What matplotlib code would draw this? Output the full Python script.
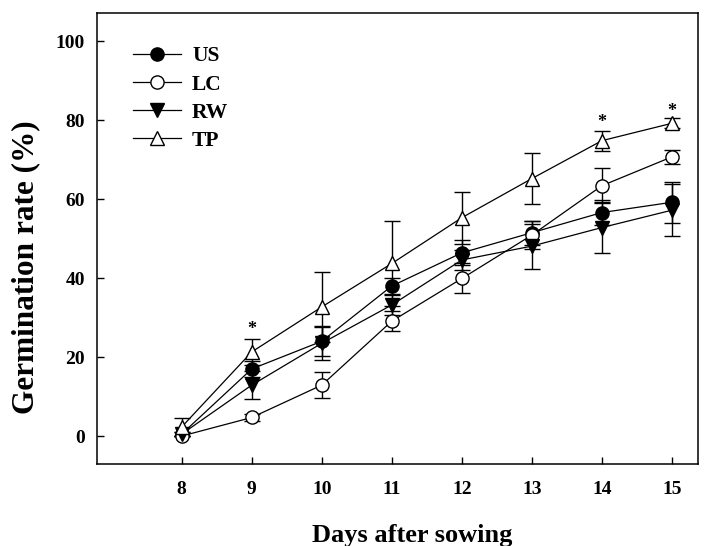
import numpy as np
import matplotlib.pyplot as plt
from matplotlib.lines import Line2D

plt.rcParams['font.family'] = ['Liberation Serif', 'DejaVu Serif']
plt.rcParams['font.weight'] = 'bold'

# days and germination rate (%) with standard errors
days = [8, 9, 10, 11, 12, 13, 14, 15]
us = [0.5, 17.0, 24.0, 38.0, 46.4, 51.5, 56.6, 59.2]
us_err = [0.5, 2.0, 3.7, 2.0, 3.2, 3.0, 3.1, 5.2]
lc = [0.0, 4.7, 12.9, 29.1, 39.9, 50.9, 63.4, 70.7]
lc_err = [0.0, 1.0, 3.2, 2.5, 3.8, 3.5, 4.4, 1.8]
rw = [0.5, 12.9, 23.5, 33.2, 44.6, 48.1, 52.8, 57.2]
rw_err = [0.5, 3.5, 4.3, 2.5, 2.5, 5.7, 6.4, 6.6]
tp = [2.3, 21.3, 32.7, 43.7, 55.3, 65.2, 74.8, 79.2]
tp_err = [2.2, 3.2, 8.9, 10.8, 6.6, 6.5, 2.5, 1.3]

# significance marks
star_days = [9, 14, 15]
star_y = [27.0, 79.3, 82.3]

fig = plt.figure(figsize=(7.18, 5.46), dpi=100)
ax = fig.add_axes([0.135, 0.150, 0.837, 0.826])

series = [
    ('US', us, us_err, 'o', 'black'),
    ('LC', lc, lc_err, 'o', 'white'),
    ('RW', rw, rw_err, 'v', 'black'),
    ('TP', tp, tp_err, '^', 'white'),
]
handles = []
for name, vals, err, mk, fc in series:
    ax.errorbar(days, vals, yerr=err, color='black', lw=0.9, marker=mk,
                markersize=9.5, markerfacecolor=fc, markeredgecolor='black',
                markeredgewidth=1.0, capsize=6, elinewidth=1.0, capthick=1.0)
    handles.append(Line2D([], [], color='black', lw=0.9, marker=mk, markersize=9.5,
                          markerfacecolor=fc, markeredgecolor='black',
                          markeredgewidth=1.0, label=name))

for d, y in zip(star_days, star_y):
    ax.text(d, y, '*', ha='center', va='center', fontsize=13, fontweight='bold')

ax.set_xlim(6.79, 15.37)
ax.set_ylim(-7.1, 107.1)
ax.set_xticks(days)
ax.set_yticks([0, 20, 40, 60, 80, 100])
ax.tick_params(direction='in', length=5, width=1, labelsize=14)
ax.tick_params(axis='x', pad=12.5)
ax.tick_params(axis='y', pad=8.5)
for s in ax.spines.values():
    s.set_linewidth(1.1)

fig.text(412 / 718, 1 - 542 / 546, 'Days after sowing', ha='center', va='baseline',
         fontsize=19, fontweight='bold')
fig.text(26 / 718, 1 - 267 / 546, 'Germination rate (%)', ha='center', va='center',
         rotation=90, fontsize=22.5, fontweight='bold')

ax.legend(handles=handles, loc='upper left', bbox_to_anchor=(0.185, 0.915),
          bbox_transform=fig.transFigure, frameon=False, borderpad=0,
          borderaxespad=0, fontsize=15.5, handlelength=2.25, labelspacing=0.37,
          handletextpad=0.5)

fig.savefig('out.png', dpi=100)
